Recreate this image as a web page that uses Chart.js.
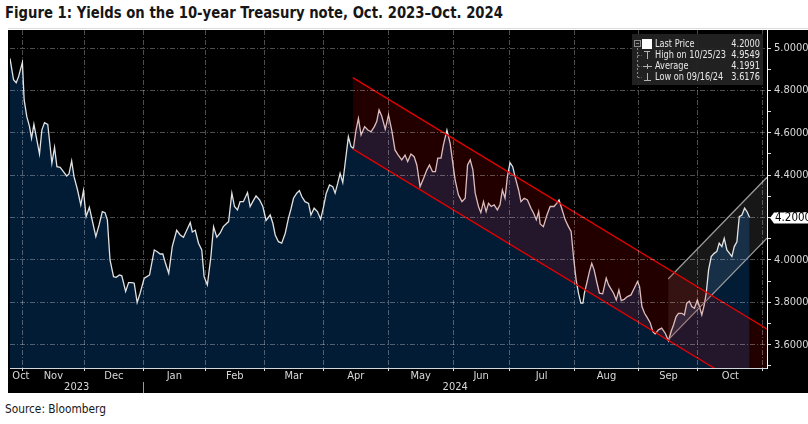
<!DOCTYPE html>
<html>
<head>
<meta charset="utf-8">
<script src="https://cdn.jsdelivr.net/npm/chart.js@4.4.1/dist/chart.umd.min.js"></script>
<style>
  body { margin: 0; background: #fff; }
  #page { position: relative; width: 808px; height: 424px; overflow: hidden; }
  #title { position: absolute; left: 5px; top: 3px; font: bold 16px 'Liberation Sans Narrow', 'DejaVu Sans Condensed', sans-serif; color: #161616; white-space: nowrap; transform-origin: 0 0; }
  #rule { position: absolute; left: 8px; top: 28px; width: 800px; height: 1px; background: #dcdcdc; }
  #panel { position: absolute; left: 8px; top: 30px; width: 800px; height: 363px; background: #000; }
  #source { position: absolute; left: 5px; top: 402px; font: 12px 'Liberation Sans Narrow', 'DejaVu Sans Condensed', sans-serif; color: #161616; white-space: nowrap; transform-origin: 0 0; }
</style>
</head>
<body>
<div id="page">
  <div id="title">Figure 1: Yields on the 10-year Treasury note, Oct. 2023–Oct. 2024</div>
  <div id="rule"></div>
  <div id="panel"><canvas id="chart"></canvas></div>
  <div id="source">Source: Bloomberg</div>
</div>
<script>
// trading days counted from 10/25/23, yields
const tradingDay = [
  0.3, 1.5, 2.4, 3.2, 4.5, 5.1, 6.0, 6.9, 7.6, 8.4, 9.4, 10.3, 11.1, 12.0, 13.1, 13.9, 14.5, 15.4, 16.2, 17.3,
  18.4, 19.5, 20.3, 21.2, 22.0, 23.2, 24.3, 25.2, 26.1, 27.2, 28.4, 29.4, 30.5, 31.6, 32.5, 33.3, 34.2, 35.4, 36.3, 37.4,
  38.2, 39.5, 40.5, 41.7, 42.4, 43.4, 44.4, 45.8, 46.7, 47.6, 49.2, 50.1, 51.2, 52.1, 53.0, 54.1, 55.3, 56.8, 58.0, 59.1,
  60.2, 61.4, 62.1, 63.1, 64.2, 65.3, 66.1, 67.2, 68.4, 69.3, 70.4, 71.5, 72.6, 74.4, 75.5, 76.4, 77.4, 78.3, 79.4, 80.8,
  81.7, 82.6, 83.7, 84.9, 86.0, 87.1, 88.5,
  89.4, 90.2, 91.3, 92.4, 93.6, 94.7, 95.6, 96.4, 97.5, 98.4, 99.2, 100.3, 101.5, 102.3, 103.4, 104.5, 105.6, 106.6, 107.5, 108.6,
  109.7, 110.5, 111.4, 112.2, 113.1, 113.9, 115.0, 115.9, 116.7, 117.6, 118.4, 119.3, 120.5, 121.6, 122.7, 123.8, 124.6, 125.4, 126.3, 127.5,
  128.6, 129.7, 130.8, 131.9, 133.1, 134.2, 135.1, 136.2, 137.3, 138.2, 139.3, 140.5, 141.6, 142.5, 143.5, 144.5, 145.3, 146.4, 147.2, 148.4,
  149.5, 150.4, 151.2, 152.3, 153.5, 154.6, 155.4, 156.3, 157.2, 158.0, 159.1, 159.9, 160.8, 161.7, 162.5, 163.4, 164.4, 165.5, 166.4, 167.2,
  168.1, 168.9, 169.8, 170.7, 171.5, 172.7, 173.5, 174.6, 175.7, 176.9, 177.8, 178.7, 179.5, 180.0,
  181.1, 182.3, 183.4, 184.7, 185.6, 186.4, 187.3, 188.5, 189.6, 190.5, 191.3, 192.2, 193.0, 193.8, 194.5, 195.0, 195.8, 196.7, 197.5, 198.3,
  199.3, 200.1, 201.2, 202.4, 203.2, 203.9, 204.9, 205.8, 206.7, 207.5, 208.5, 209.6, 210.8, 211.9, 213.0, 213.7, 214.5, 215.4, 216.2, 217.3,
  218.2, 219.0, 220.1, 221.2, 222.4, 223.5, 224.4, 225.2, 226.1, 226.9, 228.0, 228.9, 229.7, 230.6, 231.4, 232.3, 233.3, 234.0, 234.8, 235.6,
  236.3, 237.1, 238.0, 239.0, 239.9, 240.7, 241.6, 242.4, 243.3, 244.2, 245.0, 245.8, 246.7, 247.5, 248.4, 249.3, 250.1, 251.0
];
const yield10y = [
  4.951, 4.850, 4.836, 4.865, 4.932, 4.755, 4.676, 4.630, 4.574, 4.640, 4.566, 4.500, 4.613, 4.648, 4.640, 4.535, 4.456, 4.531, 4.440, 4.437,
  4.417, 4.396, 4.406, 4.467, 4.393, 4.330, 4.259, 4.327, 4.204, 4.248, 4.173, 4.110, 4.165, 4.228, 4.223, 4.189, 4.000, 3.921, 3.918, 3.929,
  3.925, 3.851, 3.893, 3.893, 3.890, 3.799, 3.843, 3.914, 3.921, 3.929, 4.047, 4.040, 4.028, 4.028, 3.984, 3.937, 4.063, 4.140, 4.118, 4.107,
  4.140, 4.176, 4.132, 4.140, 4.079, 4.047, 3.921, 3.882, 4.016, 4.156, 4.107, 4.126, 4.157, 4.181, 4.315, 4.252, 4.236, 4.275, 4.275, 4.318,
  4.252, 4.275, 4.302, 4.283, 4.252, 4.186, 4.212,
  4.173, 4.118, 4.086, 4.079, 4.126, 4.197, 4.244, 4.291, 4.315, 4.327, 4.299, 4.275, 4.267, 4.212, 4.244, 4.228, 4.192, 4.252, 4.315, 4.354,
  4.346, 4.315, 4.362, 4.409, 4.365, 4.456, 4.582, 4.535, 4.527, 4.613, 4.668, 4.590, 4.629, 4.613, 4.605, 4.629, 4.653, 4.708, 4.679, 4.616,
  4.684, 4.613, 4.519, 4.495, 4.472, 4.495, 4.464, 4.500, 4.487, 4.448, 4.346, 4.385, 4.425, 4.448, 4.417, 4.417, 4.480, 4.480, 4.542, 4.613,
  4.550, 4.456, 4.377, 4.307, 4.275, 4.291, 4.448, 4.472, 4.425, 4.315, 4.252, 4.223, 4.275, 4.228, 4.267, 4.252, 4.260, 4.236, 4.260, 4.330,
  4.291, 4.393, 4.459, 4.440, 4.393, 4.330, 4.275, 4.291, 4.283, 4.244, 4.220, 4.189, 4.228, 4.170,
  4.157, 4.212, 4.252, 4.252, 4.267, 4.283, 4.244, 4.189, 4.157, 4.134, 4.016, 3.906, 3.843, 3.796, 3.796, 3.843, 3.890, 3.945, 3.984, 3.953,
  3.890, 3.843, 3.840, 3.914, 3.882, 3.866, 3.843, 3.811, 3.858, 3.808, 3.814, 3.827, 3.835, 3.866, 3.898, 3.874, 3.780, 3.748, 3.730, 3.704,
  3.662, 3.651, 3.670, 3.678, 3.654, 3.618, 3.662, 3.693, 3.733, 3.748, 3.748, 3.740, 3.796, 3.805, 3.780, 3.772, 3.811, 3.780, 3.740, 3.786,
  3.843, 3.953, 4.016, 4.031, 4.040, 4.079, 4.063, 4.102, 4.047, 4.031, 4.016, 4.063, 4.086, 4.204, 4.212, 4.244, 4.228, 4.200
];

// month boundaries (between trading days) and where each month name sits
const monthEdges = [4.5, 25.5, 45.5, 66.5, 86.5, 106.5, 128.5, 150.5, 169.5, 191.5, 213.5, 233.5, 255.5];
const monthNames = ['Oct', 'Nov', 'Dec', 'Jan', 'Feb', 'Mar', 'Apr', 'May', 'Jun', 'Jul', 'Aug', 'Sep', 'Oct'];
const monthLabelDay = [4.0, 15, 35.5, 56, 76.5, 96.5, 117.5, 139.5, 160, 180.5, 202.5, 223.5, 244.5];
const yearNames = ['2023', '2024'];
const yearLabelDay = [22.9, 151.2];
const yearEdge = 45.5;
const yTicks = [3.5, 3.6, 3.7, 3.8, 3.9, 4.0, 4.1, 4.2, 4.3, 4.4, 4.5, 4.6, 4.7, 4.8, 4.9, 5.0];

// trend channels drawn on the chart
const downChannelDay = [116.5, 256.9];
const downChannelUpper = [4.860, 3.674];
const downChannelLower = [4.524, 3.338];
const upChannelDay = [223.4, 256.9];
const upChannelUpper = [3.910, 4.390];
const upChannelLower = [3.623, 4.103];

const legendLabels = ['Last Price', 'High on 10/25/23', 'Average', 'Low on 09/16/24'];
const legendValues = [4.2000, 4.9549, 4.1991, 3.6176];
const lastPrice = 4.2;

const FONT = "'Liberation Sans Narrow', 'DejaVu Sans Condensed', sans-serif";
const GRID = 'rgba(255,255,255,0.3)';
const DASH = [5, 2, 1, 2];

// squeeze the html texts to the width of the original condensed font
function fitWidth(id, target) {
  const el = document.getElementById(id);
  const w = el.getBoundingClientRect().width;
  if (w > target) el.style.transform = 'scaleX(' + (target / w) + ')';
}
fitWidth('title', 498);
fitWidth('source', 101);

const pts = (xs, ys) => xs.map((x, i) => ({ x: x, y: ys[i] }));

const xTicks = [{ value: 0.3, kind: 'end' }]
  .concat(monthEdges.map(v => ({ value: v, kind: 'edge' })))
  .concat(monthLabelDay.map((v, i) => ({ value: v, kind: 'month', name: monthNames[i] })))
  .concat(yearLabelDay.map((v, i) => ({ value: v, kind: 'year', name: yearNames[i] })))
  .concat([{ value: 256.9, kind: 'end' }])
  .sort((a, b) => a.value - b.value);

const overlay = {
  id: 'overlay',
  afterDraw(chart) {
    const { ctx, chartArea: a, scales: { x, y } } = chart;
    ctx.save();

    // separator between the year labels
    const sx = Math.round(x.getPixelForValue(yearEdge)) + 0.5;
    ctx.strokeStyle = '#9a9a9a';
    ctx.lineWidth = 1;
    ctx.beginPath();
    ctx.moveTo(sx, a.bottom + 14);
    ctx.lineTo(sx, chart.height);
    ctx.stroke();

    // last price tag on the axis
    const py = Math.round(y.getPixelForValue(lastPrice));
    ctx.fillStyle = '#fff';
    ctx.beginPath();
    ctx.moveTo(a.right + 3, py);
    ctx.lineTo(a.right + 7, py - 5.5);
    ctx.lineTo(a.right + 41, py - 5.5);
    ctx.lineTo(a.right + 41, py + 5.5);
    ctx.lineTo(a.right + 7, py + 5.5);
    ctx.closePath();
    ctx.fill();
    ctx.fillStyle = '#000';
    ctx.font = '11.5px ' + FONT;
    ctx.textBaseline = 'middle';
    ctx.textAlign = 'left';
    ctx.fillText(lastPrice.toFixed(4), a.right + 8, py + 0.5);

    // legend box
    const bx = a.right - 135, by = a.top + 4;
    ctx.fillStyle = 'rgba(36,36,36,0.92)';
    ctx.fillRect(bx, by, 131, 51);
    const rows = legendLabels.map((t, k) => by + 10 + k * 11);
    ctx.strokeStyle = '#8c8c8c';
    ctx.lineWidth = 1;
    ctx.setLineDash([2, 2]);
    ctx.beginPath();
    ctx.moveTo(bx + 5.5, rows[0] + 4);
    ctx.lineTo(bx + 5.5, rows[3]);
    for (let k = 1; k < 4; k++) {
      ctx.moveTo(bx + 5.5, rows[k] + 0.5);
      ctx.lineTo(bx + 10, rows[k] + 0.5);
    }
    ctx.stroke();
    ctx.setLineDash([]);
    ctx.strokeRect(bx + 2.5, rows[0] - 3.5, 6, 6);
    ctx.beginPath();
    ctx.moveTo(bx + 4, rows[0] - 0.5);
    ctx.lineTo(bx + 7, rows[0] - 0.5);
    ctx.stroke();
    ctx.fillStyle = '#fff';
    ctx.fillRect(bx + 10, rows[0] - 5, 10, 10);
    ctx.strokeStyle = '#b4b4b4';
    ctx.beginPath();
    ctx.moveTo(bx + 12, rows[1] - 3.5); ctx.lineTo(bx + 18, rows[1] - 3.5);
    ctx.moveTo(bx + 15.5, rows[1] - 3.5); ctx.lineTo(bx + 15.5, rows[1] + 4);
    ctx.moveTo(bx + 11, rows[2] + 0.5); ctx.lineTo(bx + 20, rows[2] + 0.5);
    ctx.moveTo(bx + 15.5, rows[2] - 2); ctx.lineTo(bx + 15.5, rows[2] + 3);
    ctx.moveTo(bx + 15.5, rows[3] - 4); ctx.lineTo(bx + 15.5, rows[3] + 3.5);
    ctx.moveTo(bx + 12, rows[3] + 3.5); ctx.lineTo(bx + 19, rows[3] + 3.5);
    ctx.stroke();

    ctx.fillStyle = '#e8e8e8';
    ctx.font = '11px ' + FONT;
    const k = Math.min(1, 71 / ctx.measureText(legendLabels[1]).width);
    legendLabels.forEach((t, i) => {
      ctx.save();
      ctx.translate(bx + 23, rows[i]);
      ctx.scale(k, 1);
      ctx.textAlign = 'left';
      ctx.fillText(t, 0, 0);
      ctx.restore();
      ctx.save();
      ctx.translate(bx + 128, rows[i]);
      ctx.scale(k, 1);
      ctx.textAlign = 'right';
      ctx.fillText(legendValues[i].toFixed(4), 0, 0);
      ctx.restore();
    });
    ctx.restore();
  }
};

Chart.defaults.font.family = FONT;

new Chart(document.getElementById('chart'), {
  type: 'line',
  data: {
    datasets: [
      { data: pts(downChannelDay, downChannelUpper), borderColor: '#e60000', borderWidth: 1.3, pointRadius: 0,
        fill: '+1', backgroundColor: 'rgba(205,0,0,0.17)', order: 0 },
      { data: pts(downChannelDay, downChannelLower), borderColor: '#e60000', borderWidth: 1.3, pointRadius: 0,
        fill: false, order: 0 },
      { data: pts(upChannelDay, upChannelUpper), borderColor: '#9c9c9c', borderWidth: 1.2, pointRadius: 0,
        fill: '+1', backgroundColor: 'rgba(255,255,255,0.09)', order: 0 },
      { data: pts(upChannelDay, upChannelLower), borderColor: '#9c9c9c', borderWidth: 1.2, pointRadius: 0,
        fill: false, order: 0 },
      { data: pts(tradingDay, yield10y), borderColor: '#e2e2e2', borderWidth: 1.3, pointRadius: 0,
        fill: 'start', backgroundColor: '#021c35', order: 1 }
    ]
  },
  options: {
    responsive: true,
    maintainAspectRatio: false,
    animation: false,
    devicePixelRatio: 1,
    layout: { padding: { left: 2, right: 0, top: 0, bottom: 0 } },
    plugins: { legend: { display: false }, tooltip: { enabled: false } },
    scales: {
      x: {
        type: 'linear',
        min: 0.3,
        max: 256.9,
        afterBuildTicks: s => { s.ticks = xTicks.map(t => Object.assign({}, t)); },
        afterFit: s => { s.height = 25; s.paddingLeft = 0; s.paddingRight = 0; },
        ticks: {
          autoSkip: false,
          maxRotation: 0,
          padding: 0,
          color: '#d8d8d8',
          font: { size: 11, lineHeight: 1.0 },
          callback: (v, i, ticks) => {
            const t = ticks[i];
            if (t.kind === 'month') return t.name;
            if (t.kind === 'year') return ['', t.name];
            return '';
          }
        },
        grid: {
          z: 1,
          color: c => (c.tick && c.tick.kind === 'edge') ? GRID : 'transparent',
          tickColor: c => (c.tick && c.tick.kind === 'edge') ? '#e0e0e0' : 'transparent',
          tickLength: 3
        },
        border: { color: '#cfd6de', width: 1, dash: DASH, z: 1 }
      },
      y: {
        position: 'right',
        min: 3.49,
        max: 5.085,
        afterBuildTicks: s => { s.ticks = yTicks.map(v => ({ value: v })); },
        afterFit: s => { s.width = 41; s.paddingTop = 0; s.paddingBottom = 0; },
        ticks: {
          padding: 3,
          color: '#d8d8d8',
          font: { size: 11 },
          callback: v => (Math.round(v * 10) % 2 === 0) ? v.toFixed(4) : ''
        },
        grid: {
          z: 1,
          color: c => (c.tick && Math.round(c.tick.value * 10) % 2 === 0) ? GRID : 'transparent',
          tickColor: '#e0e0e0',
          tickLength: 4
        },
        border: { color: '#ffffff', width: 1, dash: DASH, z: 1 }
      }
    }
  },
  plugins: [overlay]
});
</script>
</body>
</html>
